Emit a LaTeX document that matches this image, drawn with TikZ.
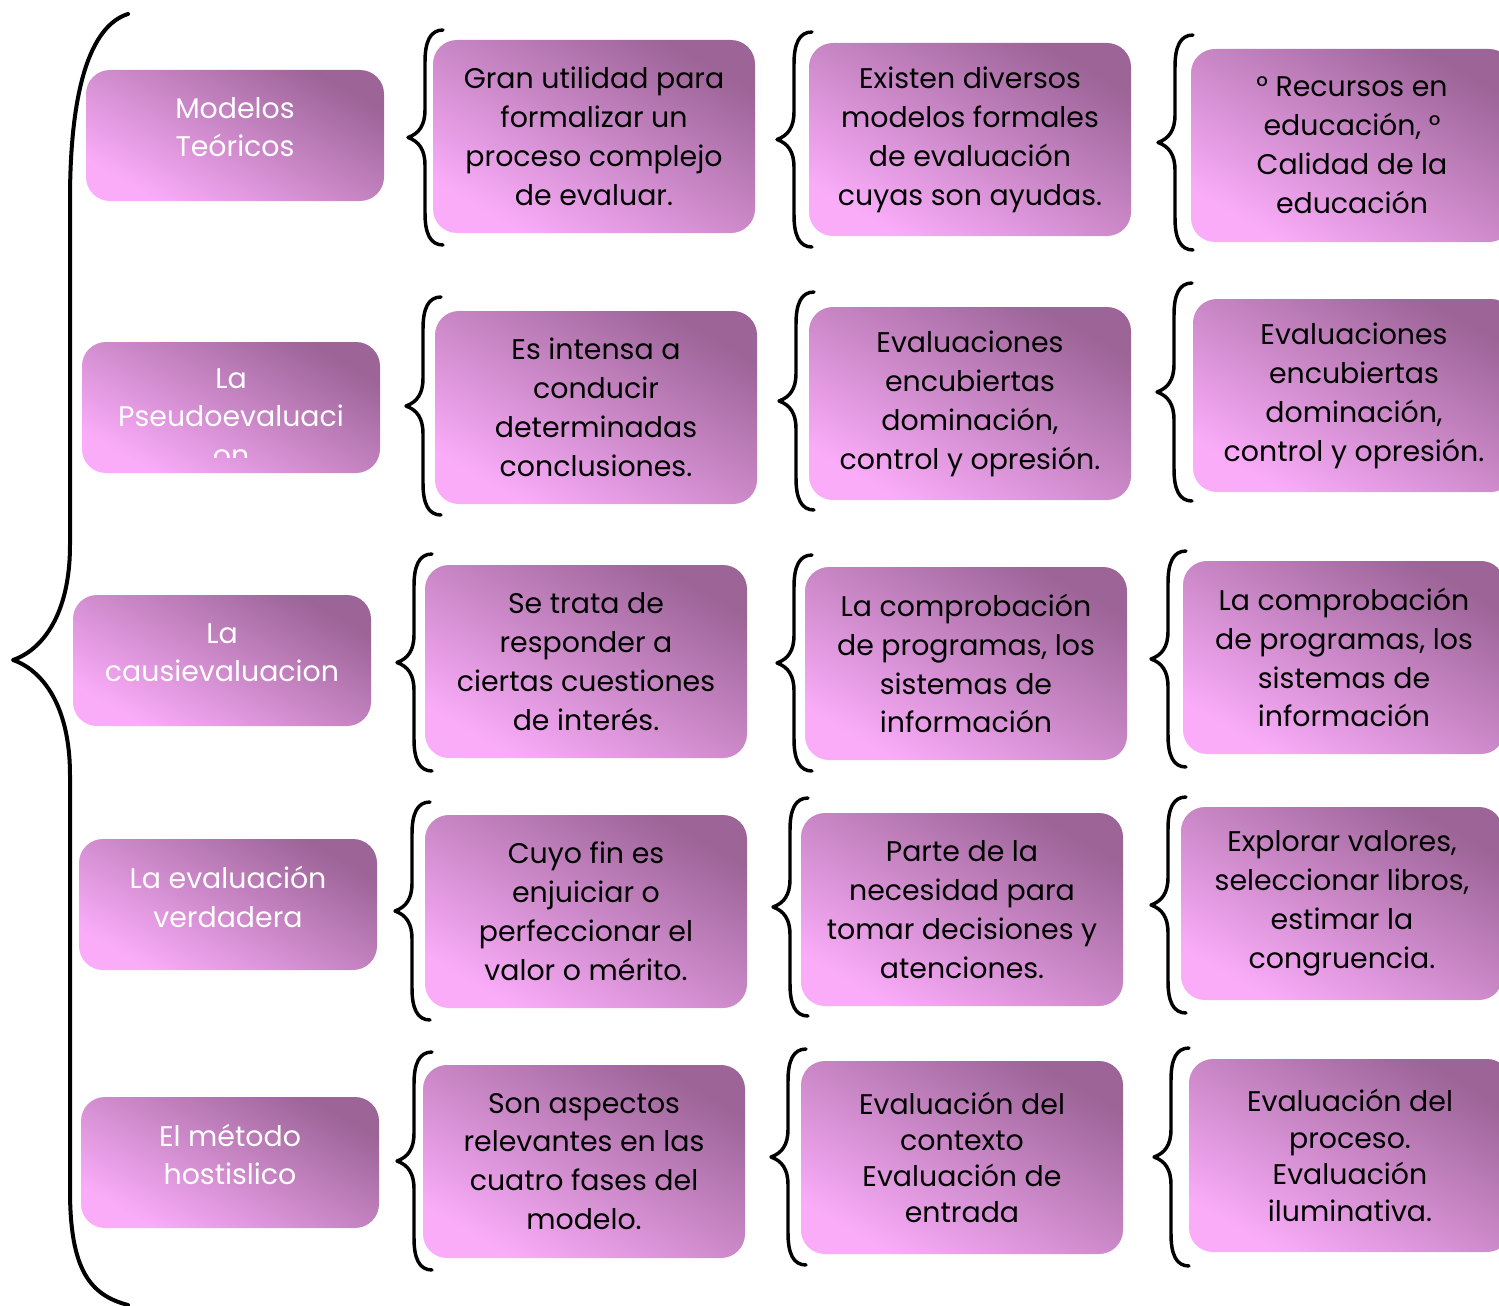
\documentclass[tikz,border=0pt]{standalone}
\usepackage{fontspec}
\setmainfont{Poppins}
\definecolor{dk}{HTML}{9C6497}
\definecolor{md}{HTML}{D890D0}
\definecolor{lt}{HTML}{FAACF9}
\newcommand\sbrace[3]{%
 \draw[brc] (#1,#2) .. controls ({#1-13},#2) and ({#1-18},{#2+12}) .. ({#1-18},{#2+32})
  -- ({#1-18},{(#2+#3)/2-28}) .. controls ({#1-18},{(#2+#3)/2-12}) and ({#1-24},{(#2+#3)/2-4}) .. ({#1-35},{(#2+#3)/2})
  .. controls ({#1-24},{(#2+#3)/2+4}) and ({#1-18},{(#2+#3)/2+12}) .. ({#1-18},{(#2+#3)/2+28})
  -- ({#1-18},{#3-32}) .. controls ({#1-18},{#3-12}) and ({#1-13},#3) .. (#1,#3);}
\tikzset{
 box/.style={rounded corners=18pt, minimum width=241.5pt, minimum height=144.75pt,
   top color=dk, middle color=md, bottom color=lt, shading angle=-30,
   align=center, text=black, inner sep=0pt, font=\fontsize{21.3}{29.2}\selectfont},
 lbox/.style={box, minimum width=223.5pt, minimum height=98.25pt},
 ltext/.style={align=center, text=white, inner sep=0pt, font=\fontsize{21.3}{28.8}\selectfont},
 brc/.style={line width=2.6pt, line cap=round, line join=round},
 bigbrc/.style={line width=3pt, line cap=round, line join=round}
}
\begin{document}
\begin{tikzpicture}[x=0.75pt,y=-0.75pt]
\useasboundingbox (0,0) rectangle (1499,1306);
\clip (0,0) rectangle (1499,1306);
% big brace
\draw[bigbrc] (128,14) .. controls (90,26) and (70,90) .. (70,200) -- (70,545)
  .. controls (70,615) and (42,650) .. (13,660) .. controls (42,670) and (70,705) .. (70,775)
  -- (70,1190) .. controls (70,1270) and (90,1295) .. (128,1305);
% column 0
\node[lbox] (a1) at (235,135.5) {};
\node[ltext] (ta1) at (235,127) {Modelos\\Teóricos};
\node[lbox] (a2) at (231,407.5) {};
\begin{scope}
\clip (82,342) rectangle (380,457);
\node[ltext] (ta2) at (231,417) {La\\Pseudoevaluaci\\on};
\end{scope}
\node[lbox] (a3) at (222,660.5) {};
\node[ltext] (ta3) at (222,653) {La\\causievaluacion};
\node[lbox] (a4) at (228,904.5) {};
\node[ltext] (ta4) at (228,897) {La evaluación\\verdadera};
\node[lbox] (a5) at (230,1162.5) {};
\node[ltext] (ta5) at (230,1154.5) {El método\\hostislico};
% column 1
\node[box] (b1) at (594,136.5) {Gran utilidad para\\formalizar un\\proceso complejo\\de evaluar.};
\node[box] (b2) at (596,407.5) {Es intensa a\\conducir\\determinadas\\conclusiones.};
\node[box] (b3) at (586,661.5) {Se trata de\\responder a\\ciertas cuestiones\\de interés.};
\node[box] (b4) at (586,911.5) {Cuyo fin es\\enjuiciar o\\perfeccionar el\\valor o mérito.};
\node[box] (b5) at (584,1161.5) {Son aspectos\\relevantes en las\\cuatro fases del\\modelo.};
% column 2
\node[box] (c1) at (970,139.5) {Existen diversos\\modelos formales\\de evaluación\\cuyas son ayudas.};
\node[box] (c2) at (970,403.5) {Evaluaciones\\encubiertas\\dominación,\\control y opresión.};
\node[box] (c3) at (966,663.5) {La comprobación\\de programas, los\\sistemas de\\información};
\node[box] (c4) at (962,909.5) {Parte de la\\necesidad para\\tomar decisiones y\\atenciones.};
\node[box, font=\fontsize{21.3}{27}\selectfont] (c5) at (962,1157.5) {Evaluación del\\contexto\\Evaluación de\\entrada};
% column 3
\node[box] (d1) at (1352,145.5) {° Recursos en\\educación, °\\Calidad de la\\educación};
\node[box] (d2) at (1354,395.5) {Evaluaciones\\encubiertas\\dominación,\\control y opresión.};
\node[box] (d3) at (1344,657.5) {La comprobación\\de programas, los\\sistemas de\\información};
\node[box] (d4) at (1342,903.5) {Explorar valores,\\seleccionar libros,\\estimar la\\congruencia.};
\node[box, font=\fontsize{21.3}{27.3}\selectfont] (d5) at (1350,1155.5) {Evaluación del\\proceso.\\Evaluación\\iluminativa.};
% small braces
\sbrace{443}{30}{245}
\sbrace{441}{297}{515}
\sbrace{432}{554}{771}
\sbrace{430}{802}{1020}
\sbrace{432}{1052}{1270}
\sbrace{812}{32}{247}
\sbrace{814}{292}{510}
\sbrace{812}{555}{771}
\sbrace{808}{798}{1016}
\sbrace{806}{1049}{1265}
\sbrace{1193}{35}{250}
\sbrace{1192}{283}{501}
\sbrace{1186}{551}{767}
\sbrace{1186}{797}{1013}
\sbrace{1189}{1048}{1266}
\end{tikzpicture}
\end{document}
